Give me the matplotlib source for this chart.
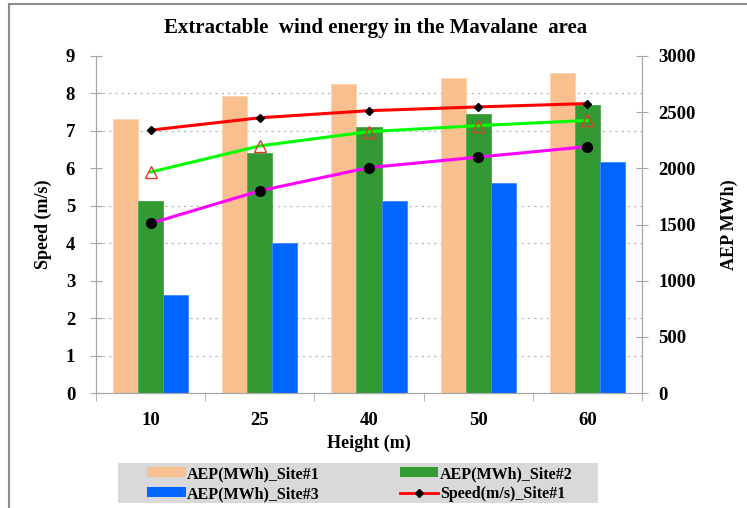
import numpy as np
import matplotlib
matplotlib.use("Agg")
import matplotlib.pyplot as plt
from matplotlib.ticker import MultipleLocator, FixedLocator
from matplotlib.lines import Line2D
from matplotlib.patches import Rectangle, Patch

plt.rcParams['font.family'] = ['Liberation Serif', 'DejaVu Serif']
plt.rcParams['font.weight'] = 'bold'
plt.rcParams['axes.labelweight'] = 'bold'

heights = ['10', '25', '40', '50', '60']
aep_site1 = [2440, 2645, 2750, 2800, 2845]
aep_site2 = [1705, 2140, 2365, 2480, 2560]
aep_site3 = [870, 1335, 1705, 1865, 2055]
speed_site1 = [7.02, 7.35, 7.54, 7.64, 7.73]
speed_site2 = [5.90, 6.60, 6.98, 7.14, 7.28]
speed_site3 = [4.53, 5.40, 6.02, 6.30, 6.58]

x = np.arange(len(heights))
w = 0.23
grey = '#a6a6a6'

fig = plt.figure(figsize=(7.47, 5.08), dpi=100)
ax = fig.add_axes([96/747, 1-393/508, 546/747, 337/508])
ax2 = ax.twinx()

# bars behind, lines in front
ax2.set_zorder(1)
ax.set_zorder(2)
ax.patch.set_visible(False)

ax2.bar(x - w, aep_site1, w, color='#f9bf8f', edgecolor='#fbd3b0', linewidth=0.6)
ax2.bar(x, aep_site2, w, color='#339933', edgecolor='#4aa84a', linewidth=0.6)
ax2.bar(x + w, aep_site3, w, color='#0066ff', edgecolor='#3d8bff', linewidth=0.6)

ax.plot(x, speed_site1, color='#ff0000', lw=2.2, marker='D', ms=4.5,
        mfc='black', mec='black')
ax.plot(x, speed_site2, color='#00ff00', lw=2.2, marker='^', ms=9,
        mfc='none', mec='#d8402a', mew=1.0)
ax.plot(x, speed_site3, color='#ff00ff', lw=2.2, marker='o', ms=7,
        mfc='black', mec='black')

ax.set_xlim(-0.5, len(heights) - 0.5)
ax.set_ylim(0, 9)
ax2.set_ylim(0, 3000)

ax.set_xticks(x)
ax.set_xticklabels(heights)
ax.xaxis.set_minor_locator(FixedLocator(np.arange(-0.5, len(heights), 1)))
ax.tick_params(axis='x', which='major', length=0, pad=14, labelsize=13.5)
ax.tick_params(axis='x', which='minor', length=6, direction='out', color=grey)
ax.yaxis.set_major_locator(MultipleLocator(1))
ax.tick_params(axis='y', length=8, direction='inout', color=grey, labelsize=13.5, pad=11)
ax2.yaxis.set_major_locator(MultipleLocator(500))
ax2.tick_params(axis='y', length=8, direction='inout', color=grey, labelsize=13.5, pad=8)

# grid lives on the bar axes so it sits behind the bars
ax2.yaxis.set_minor_locator(MultipleLocator(1000/3))
ax2.tick_params(axis='y', which='minor', length=0)
ax2.grid(which='minor', axis='y', linestyle=(0, (2, 3)), color='#bfbfbf', lw=0.9)
ax2.grid(which='both', axis='x', linestyle=(0, (2, 3)), color='#bfbfbf', lw=0.9)
ax2.set_axisbelow(True)

for a in (ax, ax2):
    a.spines['top'].set_visible(False)
    for s in ('left', 'right', 'bottom'):
        a.spines[s].set_color(grey)

ax.set_xlabel('Height (m)', fontsize=13, labelpad=4)
ax.set_ylabel('Speed (m/s)', fontsize=13, labelpad=10)
ax2.set_ylabel('AEP MWh)', fontsize=13, rotation=90, labelpad=18)

fig.text(376/747, 1-28/508, 'Extractable  wind energy in the Mavalane  area',
         ha='center', va='center', fontsize=15)

# legend background box
fig.patches.append(Rectangle((118/747, 1-503/508), 480/747, 40/508,
                             transform=fig.transFigure, facecolor='#d9d9d9',
                             edgecolor='none', zorder=0))
handles = [
    Patch(facecolor='#f9bf8f', edgecolor='none'),
    Patch(facecolor='#0066ff', edgecolor='none'),
    Patch(facecolor='#339933', edgecolor='none'),
    Line2D([], [], color='#ff0000', lw=2, marker='D', ms=4, mfc='black', mec='black'),
]
labels = ['AEP(MWh)_Site#1', 'AEP(MWh)_Site#3', 'AEP(MWh)_Site#2', 'Speed(m/s)_Site#1']
fig.legend(handles, labels, ncol=2, loc='center', frameon=False,
           bbox_to_anchor=(360/747, 1-484/508), fontsize=11.5,
           handlelength=2.4, handleheight=0.6, handletextpad=0.1,
           columnspacing=5.0, labelspacing=0.25)

# outer chart frame
fig.add_artist(Line2D([9/747, 9/747], [0, 1-4/508], transform=fig.transFigure,
                      color='#8c8c8c', lw=1.5))
fig.add_artist(Line2D([9/747, 1], [1-4/508, 1-4/508], transform=fig.transFigure,
                      color='#8c8c8c', lw=1.5))

fig.savefig('out.png', dpi=100)
